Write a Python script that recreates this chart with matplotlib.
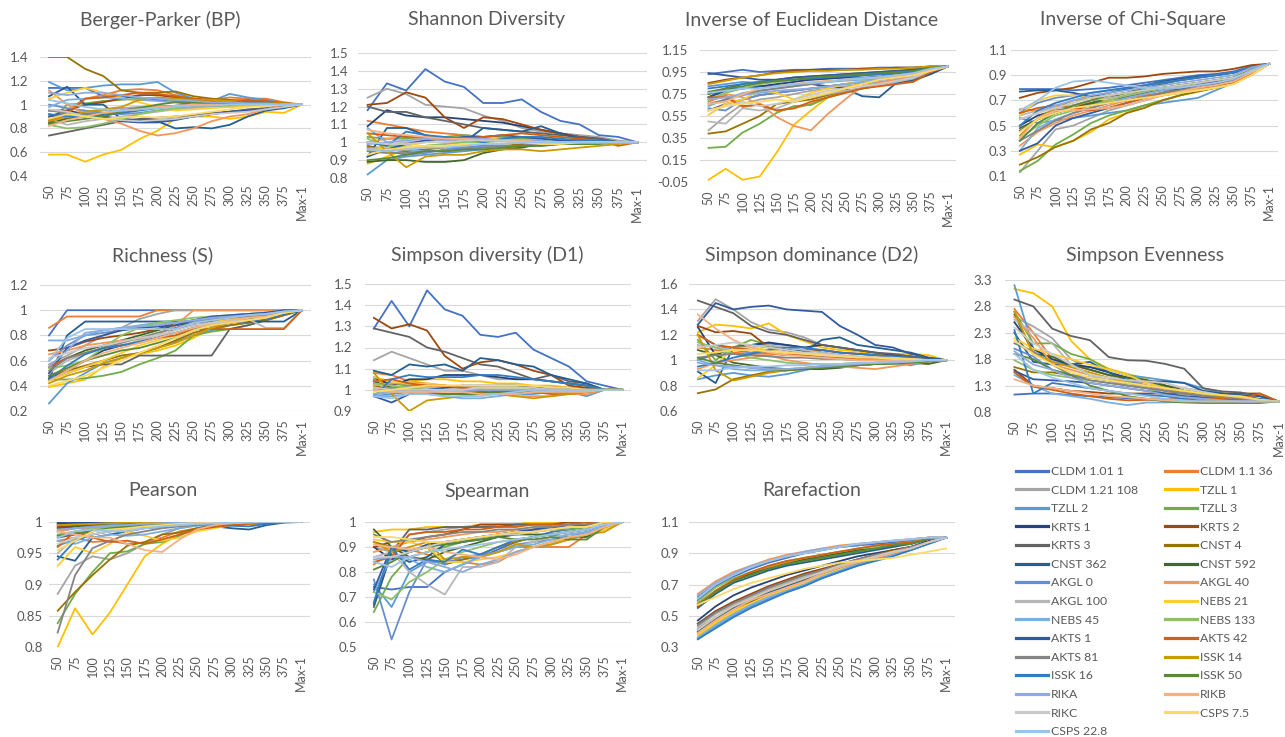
import numpy as np
import matplotlib
matplotlib.use("Agg")
import matplotlib.pyplot as plt
from matplotlib.lines import Line2D

plt.rcParams['font.family'] = ['Lato', 'DejaVu Sans']

# ---- data -------------------------------------------------------------
x_labels = ['50', '75', '100', '125', '150', '175', '200', '225', '250',
            '275', '300', '325', '350', '375', 'Max-1']

sample_names = ['CLDM 1.01 1', 'CLDM 1.1 36', 'CLDM 1.21 108', 'TZLL 1', 'TZLL 2',
                'TZLL 3', 'KRTS 1', 'KRTS 2', 'KRTS 3', 'CNST 4', 'CNST 362',
                'CNST 592', 'AKGL 0', 'AKGL 40', 'AKGL 100', 'NEBS 21', 'NEBS 45',
                'NEBS 133', 'AKTS 1', 'AKTS 42', 'AKTS 81', 'ISSK 14', 'ISSK 16',
                'ISSK 50', 'RIKA', 'RIKB', 'RIKC', 'CSPS 7.5', 'CSPS 22.8']

sample_colors = ['#4472C4', '#ED7D31', '#A5A5A5', '#FFC000', '#5B9BD5', '#70AD47',
                 '#264478', '#9E480E', '#636363', '#997300', '#255E91', '#43682B',
                 '#698ED0', '#F1975A', '#B7B7B7', '#FFCD33', '#7CAFDD', '#8CC168',
                 '#335AA1', '#D26012', '#848484', '#CC9A00', '#327DC2', '#5A8A39',
                 '#8FAADC', '#F4B183', '#C9C9C9', '#FFD966', '#9DC3E6']

berger_parker = [
    [1.14,1.14,1.14,1.07,1.07,1.06,1.04,1.02,1.0,1.01,1.02,1.01,1.0,1.0,1.0],
    [0.84,0.95,1.05,1.08,1.12,1.13,1.12,1.08,1.05,1.04,1.06,1.05,1.05,1.02,1.0],
    [0.92,0.88,0.93,0.95,0.97,0.98,0.99,0.98,1.0,1.0,0.99,1.0,1.0,1.0,1.0],
    [0.58,0.58,0.52,0.58,0.62,0.71,0.78,0.88,0.9,0.9,0.88,0.9,0.94,0.93,1.0],
    [1.19,1.12,1.14,1.16,1.17,1.17,1.19,1.1,1.05,1.03,1.09,1.06,1.04,1.01,1.0],
    [0.85,1.0,1.01,1.03,1.04,1.05,1.06,1.03,1.02,1.01,1.0,1.0,1.01,1.0,1.0],
    [0.95,0.95,0.92,0.9,0.88,0.87,0.87,0.88,0.9,0.92,0.94,0.95,0.96,0.98,1.0],
    [0.9,0.95,1.0,1.02,1.05,1.08,1.08,1.06,1.04,1.03,1.03,1.03,1.02,1.01,1.0],
    [0.74,0.77,0.8,0.83,0.86,0.88,0.89,0.9,0.91,0.93,0.94,0.96,0.97,0.99,1.0],
    [1.4,1.4,1.3,1.24,1.12,1.1,1.1,1.11,1.07,1.05,1.04,1.03,1.02,1.01,1.0],
    [1.07,1.15,1.0,1.0,0.88,0.86,0.86,0.8,0.81,0.8,0.83,0.9,0.95,0.97,1.0],
    [0.85,0.88,0.9,0.92,0.95,0.97,0.98,0.99,1.0,1.0,1.0,1.0,1.01,1.0,1.0],
    [1.0,0.97,0.95,0.93,0.92,0.93,0.95,0.97,0.98,0.99,1.0,1.0,1.0,1.0,1.0],
    [1.12,1.0,0.92,0.88,0.84,0.78,0.74,0.76,0.8,0.86,0.9,0.92,0.96,1.0,1.0],
    [0.88,0.83,0.86,0.88,0.9,0.92,0.94,0.96,0.97,0.98,0.98,0.99,0.99,1.0,1.0],
    [1.05,1.1,1.14,1.1,1.06,1.02,0.98,0.95,0.96,0.97,0.98,0.99,1.0,1.0,1.0],
    [0.98,1.04,1.05,1.06,1.05,1.04,1.03,1.02,1.02,1.01,1.01,1.01,1.0,1.0,1.0],
    [0.83,0.8,0.81,0.84,0.88,0.92,0.95,0.97,0.98,0.99,0.99,1.0,1.0,1.0,1.0],
    [0.9,0.92,0.92,0.9,0.86,0.85,0.85,0.87,0.9,0.92,0.94,0.95,0.96,0.98,1.0],
    [0.87,0.92,1.05,1.06,1.08,1.1,1.09,1.07,1.05,1.04,1.03,1.04,1.03,1.01,1.0],
    [0.95,0.93,0.92,0.93,0.95,0.97,0.98,0.98,0.99,0.99,1.0,1.0,1.0,1.0,1.0],
    [0.86,0.9,0.94,0.96,0.98,1.04,1.06,1.05,1.04,1.04,1.03,1.02,1.01,1.01,1.0],
    [0.92,0.9,0.9,0.91,0.93,0.95,0.97,0.99,1.0,1.01,1.02,1.02,1.01,1.0,1.0],
    [0.84,0.86,0.88,0.9,0.94,0.97,1.0,1.02,1.02,1.01,1.0,1.01,1.01,1.0,1.0],
    [1.1,1.08,1.1,1.1,1.08,1.06,1.05,1.04,1.03,1.02,1.02,1.01,1.01,1.0,1.0],
    [0.82,0.87,0.9,0.93,0.95,0.96,0.98,0.99,1.0,1.0,1.0,1.0,1.0,1.0,1.0],
    [0.96,0.94,0.9,0.88,0.87,0.86,0.87,0.88,0.9,0.92,0.93,0.94,0.96,0.98,1.0],
    [0.88,0.92,0.9,0.88,0.89,0.9,0.89,0.9,0.92,0.94,0.96,0.98,0.99,1.0,1.0],
    [1.04,1.01,0.98,0.96,0.95,0.96,0.97,0.98,0.99,0.99,1.0,1.0,1.0,1.0,1.0],
]

shannon = [
    [1.18,1.33,1.29,1.41,1.34,1.31,1.22,1.22,1.24,1.17,1.12,1.1,1.04,1.03,1.0],
    [1.12,1.1,1.08,1.06,1.05,1.04,1.03,1.03,1.02,1.02,1.01,1.01,1.0,1.0,1.0],
    [1.25,1.3,1.27,1.21,1.2,1.19,1.15,1.12,1.08,1.06,1.05,1.04,1.03,1.01,1.0],
    [0.88,0.92,0.96,0.98,0.99,1.0,1.01,1.01,1.0,1.0,1.0,1.0,1.0,1.0,1.0],
    [0.82,0.9,0.92,0.93,0.94,0.95,0.96,0.97,0.98,0.98,0.99,0.99,1.0,1.0,1.0],
    [1.03,1.02,1.02,1.03,1.03,1.04,1.03,1.03,1.02,1.02,1.01,1.01,1.0,1.0,1.0],
    [1.09,1.18,1.15,1.14,1.14,1.13,1.12,1.11,1.09,1.07,1.05,1.03,1.02,1.0,1.0],
    [1.21,1.22,1.28,1.25,1.14,1.08,1.14,1.13,1.1,1.07,1.05,1.03,1.02,1.0,1.0],
    [1.2,1.17,1.17,1.14,1.12,1.1,1.08,1.07,1.06,1.05,1.04,1.03,1.02,1.0,1.0],
    [0.98,0.96,0.95,0.96,0.97,0.97,0.98,0.98,0.99,0.99,0.99,1.0,1.0,1.0,1.0],
    [0.92,1.08,1.08,1.04,1.02,1.0,1.08,1.07,1.06,1.09,1.05,1.02,1.01,1.0,1.0],
    [0.89,0.9,0.9,0.89,0.89,0.9,0.94,0.96,0.97,0.99,0.99,0.99,1.0,1.0,1.0],
    [0.97,0.95,0.93,0.94,0.96,0.97,0.98,0.99,1.0,1.0,1.0,1.0,1.0,1.0,1.0],
    [1.0,1.02,1.03,1.02,1.01,1.0,1.01,1.02,1.01,1.0,1.0,1.0,1.0,1.0,1.0],
    [0.96,0.98,1.0,1.01,1.02,1.02,1.02,1.01,1.01,1.01,1.0,1.0,1.0,1.0,1.0],
    [0.95,0.97,0.98,1.0,1.02,1.03,1.03,1.02,1.01,1.01,1.0,1.0,1.0,1.0,1.0],
    [1.08,1.0,0.96,0.95,0.95,0.96,0.97,0.98,0.98,0.99,0.99,1.0,1.0,1.0,1.0],
    [1.02,0.98,0.97,0.98,0.99,1.0,1.0,1.01,1.01,1.0,1.0,1.0,1.0,1.0,1.0],
    [0.92,0.96,0.99,1.01,1.02,1.03,1.03,1.04,1.03,1.02,1.01,1.01,1.0,1.0,1.0],
    [1.05,1.04,1.03,1.03,1.02,1.02,1.03,1.04,1.05,1.04,1.03,1.02,1.01,0.98,1.0],
    [0.95,0.94,0.94,0.95,0.95,0.96,0.97,0.98,0.98,0.99,0.99,1.0,1.0,1.0,1.0],
    [1.05,0.95,0.86,0.92,0.93,0.93,0.95,0.96,0.96,0.95,0.96,0.97,0.98,0.99,1.0],
    [1.0,0.98,1.06,1.04,1.03,1.02,1.0,1.02,1.03,1.03,1.02,1.01,1.01,1.0,1.0],
    [0.9,0.91,0.93,0.95,0.95,0.96,0.96,0.97,0.98,0.98,0.99,0.99,0.99,1.0,1.0],
    [0.99,1.0,1.01,1.02,1.01,1.02,1.02,1.01,1.01,1.01,1.0,1.0,1.0,1.0,1.0],
    [1.07,1.05,1.04,1.03,1.02,1.02,1.01,1.01,1.01,1.0,1.0,1.0,1.0,1.0,1.0],
    [1.0,0.99,0.99,1.0,1.0,1.01,1.01,1.01,1.0,1.0,1.0,1.0,1.0,1.0,1.0],
    [0.93,0.96,0.97,0.98,0.98,0.99,0.99,0.99,1.0,0.99,0.99,1.0,1.0,1.0,1.0],
    [0.96,0.95,0.96,0.97,0.97,0.98,0.99,0.99,1.0,1.0,1.0,1.0,1.0,1.0,1.0],
]

inv_euclid = [
    [0.93,0.95,0.97,0.95,0.96,0.97,0.97,0.98,0.98,0.98,0.99,0.99,0.99,1.0,1.0],
    [0.68,0.74,0.63,0.66,0.6,0.62,0.66,0.72,0.77,0.8,0.83,0.86,0.89,0.96,1.0],
    [0.42,0.55,0.66,0.7,0.72,0.75,0.78,0.8,0.82,0.84,0.86,0.88,0.9,0.96,1.0],
    [-0.03,0.07,-0.03,0.0,0.22,0.47,0.6,0.72,0.8,0.85,0.88,0.9,0.93,0.97,1.0],
    [0.82,0.84,0.86,0.85,0.86,0.88,0.88,0.89,0.9,0.9,0.91,0.93,0.94,0.98,1.0],
    [0.26,0.27,0.4,0.48,0.58,0.64,0.65,0.72,0.76,0.8,0.84,0.87,0.9,0.96,1.0],
    [0.72,0.78,0.8,0.82,0.84,0.86,0.88,0.89,0.9,0.92,0.93,0.94,0.96,0.98,1.0],
    [0.85,0.88,0.9,0.92,0.95,0.96,0.97,0.97,0.97,0.98,0.98,0.99,0.99,1.0,1.0],
    [0.6,0.66,0.7,0.74,0.76,0.78,0.8,0.82,0.84,0.86,0.88,0.9,0.92,0.97,1.0],
    [0.39,0.41,0.48,0.55,0.66,0.68,0.7,0.74,0.78,0.8,0.83,0.86,0.87,0.93,1.0],
    [0.72,0.8,0.8,0.82,0.82,0.84,0.84,0.82,0.8,0.73,0.72,0.85,0.88,0.93,1.0],
    [0.75,0.8,0.84,0.86,0.88,0.9,0.91,0.92,0.93,0.94,0.95,0.96,0.97,0.99,1.0],
    [0.62,0.6,0.7,0.74,0.76,0.78,0.8,0.82,0.84,0.86,0.88,0.9,0.92,0.97,1.0],
    [0.7,0.75,0.72,0.66,0.54,0.46,0.42,0.57,0.7,0.82,0.85,0.88,0.9,0.96,1.0],
    [0.5,0.48,0.62,0.6,0.62,0.68,0.72,0.75,0.78,0.8,0.83,0.86,0.89,0.96,1.0],
    [0.56,0.66,0.7,0.78,0.76,0.7,0.76,0.8,0.84,0.87,0.9,0.92,0.94,0.98,1.0],
    [0.64,0.7,0.76,0.78,0.8,0.82,0.84,0.86,0.87,0.88,0.88,0.9,0.92,0.97,1.0],
    [0.7,0.76,0.8,0.84,0.86,0.88,0.9,0.91,0.92,0.93,0.94,0.95,0.96,0.99,1.0],
    [0.94,0.92,0.9,0.88,0.88,0.9,0.91,0.92,0.93,0.94,0.95,0.96,0.97,0.99,1.0],
    [0.72,0.72,0.64,0.65,0.6,0.62,0.68,0.72,0.76,0.8,0.82,0.84,0.86,0.95,1.0],
    [0.66,0.7,0.74,0.78,0.8,0.82,0.84,0.86,0.88,0.89,0.9,0.91,0.93,0.97,1.0],
    [0.84,0.87,0.9,0.92,0.94,0.95,0.96,0.96,0.97,0.97,0.98,0.98,0.99,1.0,1.0],
    [0.8,0.82,0.84,0.86,0.87,0.88,0.89,0.9,0.91,0.92,0.93,0.94,0.95,0.98,1.0],
    [0.77,0.8,0.82,0.85,0.87,0.88,0.9,0.91,0.92,0.93,0.94,0.95,0.96,0.99,1.0],
    [0.7,0.72,0.74,0.76,0.78,0.79,0.8,0.82,0.84,0.86,0.88,0.9,0.92,0.97,1.0],
    [0.66,0.68,0.75,0.8,0.82,0.84,0.86,0.87,0.88,0.89,0.9,0.91,0.93,0.97,1.0],
    [0.6,0.64,0.68,0.64,0.66,0.7,0.74,0.78,0.8,0.82,0.84,0.87,0.9,0.96,1.0],
    [0.6,0.64,0.66,0.68,0.7,0.68,0.72,0.76,0.8,0.84,0.88,0.9,0.92,0.96,1.0],
    [0.76,0.78,0.8,0.8,0.82,0.84,0.85,0.86,0.88,0.89,0.9,0.92,0.94,0.98,1.0],
]

inv_chi = [
    [0.79,0.79,0.79,0.78,0.79,0.8,0.82,0.84,0.86,0.88,0.9,0.91,0.93,0.97,0.99],
    [0.63,0.62,0.64,0.66,0.68,0.7,0.72,0.74,0.76,0.78,0.8,0.82,0.85,0.92,0.99],
    [0.13,0.3,0.47,0.5,0.56,0.62,0.66,0.7,0.74,0.77,0.8,0.83,0.86,0.93,0.99],
    [0.27,0.35,0.33,0.38,0.45,0.55,0.6,0.66,0.7,0.74,0.77,0.8,0.84,0.92,0.99],
    [0.56,0.52,0.54,0.56,0.58,0.6,0.62,0.66,0.68,0.7,0.72,0.78,0.84,0.9,0.99],
    [0.14,0.22,0.35,0.43,0.52,0.58,0.62,0.66,0.7,0.74,0.78,0.82,0.85,0.93,0.99],
    [0.5,0.58,0.62,0.64,0.66,0.68,0.7,0.72,0.74,0.76,0.78,0.8,0.84,0.92,0.99],
    [0.72,0.76,0.78,0.8,0.84,0.88,0.88,0.89,0.91,0.92,0.93,0.93,0.95,0.98,0.99],
    [0.46,0.55,0.6,0.64,0.67,0.7,0.73,0.76,0.78,0.8,0.82,0.85,0.88,0.94,0.99],
    [0.19,0.25,0.33,0.38,0.47,0.52,0.6,0.64,0.7,0.74,0.77,0.8,0.84,0.92,0.99],
    [0.77,0.78,0.78,0.76,0.73,0.76,0.79,0.82,0.85,0.87,0.89,0.9,0.92,0.96,0.99],
    [0.48,0.55,0.6,0.64,0.68,0.72,0.76,0.8,0.83,0.86,0.88,0.9,0.92,0.96,0.99],
    [0.6,0.68,0.72,0.74,0.76,0.78,0.8,0.82,0.84,0.86,0.88,0.9,0.92,0.96,0.99],
    [0.34,0.45,0.52,0.58,0.62,0.66,0.7,0.72,0.74,0.76,0.78,0.8,0.83,0.91,0.99],
    [0.58,0.62,0.64,0.66,0.7,0.72,0.74,0.77,0.8,0.82,0.84,0.86,0.88,0.94,0.99],
    [0.58,0.7,0.74,0.74,0.72,0.7,0.7,0.72,0.74,0.76,0.78,0.8,0.83,0.9,0.99],
    [0.3,0.48,0.55,0.6,0.64,0.68,0.72,0.75,0.78,0.8,0.82,0.84,0.87,0.93,0.99],
    [0.4,0.5,0.58,0.62,0.66,0.7,0.74,0.77,0.8,0.82,0.84,0.86,0.88,0.94,0.99],
    [0.3,0.36,0.5,0.56,0.6,0.64,0.68,0.72,0.76,0.79,0.82,0.85,0.88,0.94,0.99],
    [0.6,0.64,0.66,0.64,0.62,0.64,0.68,0.72,0.76,0.78,0.8,0.82,0.84,0.91,0.99],
    [0.38,0.46,0.54,0.6,0.64,0.68,0.7,0.73,0.76,0.78,0.8,0.83,0.86,0.93,0.99],
    [0.42,0.56,0.64,0.7,0.72,0.74,0.76,0.78,0.8,0.82,0.84,0.86,0.88,0.94,0.99],
    [0.5,0.62,0.68,0.72,0.76,0.78,0.8,0.82,0.84,0.86,0.88,0.9,0.92,0.96,0.99],
    [0.38,0.52,0.6,0.66,0.7,0.74,0.76,0.78,0.8,0.82,0.84,0.86,0.88,0.94,0.99],
    [0.55,0.6,0.66,0.7,0.74,0.76,0.78,0.8,0.82,0.84,0.86,0.88,0.9,0.96,0.99],
    [0.4,0.56,0.62,0.62,0.63,0.64,0.66,0.7,0.74,0.77,0.8,0.82,0.85,0.92,0.99],
    [0.55,0.6,0.64,0.68,0.72,0.74,0.76,0.78,0.8,0.82,0.84,0.86,0.88,0.93,0.99],
    [0.45,0.55,0.6,0.64,0.66,0.68,0.7,0.72,0.74,0.76,0.78,0.8,0.83,0.9,0.99],
    [0.62,0.7,0.8,0.85,0.86,0.84,0.82,0.8,0.8,0.8,0.82,0.84,0.87,0.94,0.99],
]

richness = [
    [0.8,1.0,1.0,1.0,1.0,1.0,1.0,1.0,1.0,1.0,1.0,1.0,1.0,1.0,1.0],
    [0.86,0.95,0.95,0.95,0.95,0.95,1.0,1.0,1.0,1.0,1.0,1.0,1.0,1.0,1.0],
    [0.57,0.64,0.72,0.8,0.86,0.93,0.97,1.0,1.0,1.0,1.0,1.0,1.0,1.0,1.0],
    [0.39,0.42,0.45,0.55,0.62,0.65,0.68,0.72,0.78,0.86,0.9,0.93,0.94,0.97,1.0],
    [0.26,0.42,0.5,0.58,0.62,0.66,0.7,0.75,0.8,0.84,0.88,0.9,0.93,0.98,1.0],
    [0.45,0.45,0.46,0.48,0.51,0.57,0.62,0.68,0.8,0.83,0.85,0.88,0.92,0.98,1.0],
    [0.46,0.52,0.6,0.68,0.72,0.75,0.78,0.85,0.88,0.9,0.92,0.93,0.94,0.97,1.0],
    [0.68,0.7,0.75,0.78,0.8,0.82,0.85,0.9,0.92,0.94,0.95,0.96,0.97,0.99,1.0],
    [0.45,0.5,0.55,0.57,0.57,0.64,0.64,0.64,0.64,0.64,0.85,0.88,0.92,0.96,1.0],
    [0.48,0.52,0.56,0.6,0.64,0.66,0.7,0.76,0.82,0.86,0.88,0.9,0.92,0.96,1.0],
    [0.45,0.8,0.91,0.91,0.91,0.91,0.91,0.91,0.91,0.91,0.91,0.91,0.91,0.91,1.0],
    [0.55,0.62,0.68,0.72,0.76,0.8,0.84,0.88,0.9,0.92,0.94,0.95,0.96,0.98,1.0],
    [0.6,0.72,0.8,0.82,0.84,0.86,0.88,0.9,0.91,0.93,0.95,0.96,0.97,0.99,1.0],
    [0.65,0.68,0.72,0.74,0.76,0.77,0.8,0.88,1.0,1.0,1.0,1.0,1.0,1.0,1.0],
    [0.5,0.6,0.65,0.7,0.72,0.76,0.8,0.82,0.86,0.9,0.92,0.93,0.86,0.86,1.0],
    [0.44,0.5,0.55,0.6,0.66,0.72,0.76,0.8,0.86,0.9,0.93,0.94,0.95,0.98,1.0],
    [0.76,0.76,0.8,0.84,0.86,0.88,0.9,0.9,0.92,0.94,0.96,0.97,0.98,1.0,1.0],
    [0.54,0.56,0.6,0.7,0.8,0.86,0.9,0.92,0.94,0.95,0.96,0.97,0.98,0.99,1.0],
    [0.5,0.7,0.76,0.8,0.84,0.86,0.87,0.88,0.92,0.95,0.96,0.97,0.98,1.0,1.0],
    [0.55,0.62,0.66,0.7,0.72,0.74,0.78,0.8,0.85,0.85,0.85,0.85,0.85,0.85,1.0],
    [0.52,0.62,0.66,0.7,0.74,0.78,0.82,0.86,0.9,0.92,0.94,0.95,0.96,0.98,1.0],
    [0.42,0.48,0.52,0.58,0.62,0.66,0.7,0.74,0.8,0.86,0.9,0.92,0.94,0.98,1.0],
    [0.45,0.56,0.65,0.7,0.72,0.75,0.78,0.82,0.86,0.88,0.9,0.92,0.93,0.97,1.0],
    [0.48,0.54,0.6,0.64,0.68,0.7,0.74,0.78,0.84,0.88,0.9,0.92,0.94,0.98,1.0],
    [0.55,0.68,0.82,0.84,0.86,0.87,0.88,0.9,0.92,0.94,0.95,0.96,0.97,0.99,1.0],
    [0.44,0.52,0.6,0.66,0.7,0.74,0.78,0.82,0.86,0.89,0.92,0.94,0.95,0.98,1.0],
    [0.62,0.66,0.7,0.72,0.75,0.78,0.8,0.84,0.88,0.9,0.91,0.92,0.94,0.98,1.0],
    [0.4,0.44,0.48,0.54,0.6,0.66,0.72,0.78,0.84,0.88,0.9,0.92,0.94,0.98,1.0],
    [0.6,0.78,0.85,0.85,0.85,0.85,0.85,0.85,0.9,0.92,0.94,0.96,0.97,0.99,1.0],
]

simpson_d1 = [
    [1.29,1.42,1.3,1.47,1.38,1.35,1.26,1.25,1.27,1.19,1.15,1.11,1.04,1.02,1.0],
    [1.08,1.07,1.04,1.03,1.02,1.01,1.0,1.0,0.99,0.99,0.99,1.0,1.0,1.0,1.0],
    [1.14,1.18,1.15,1.12,1.09,1.09,1.07,1.05,1.05,1.05,1.04,1.03,1.02,1.0,1.0],
    [1.03,1.02,1.04,1.05,1.05,1.04,1.04,1.03,1.03,1.02,1.02,1.01,1.01,1.0,1.0],
    [0.97,0.98,0.99,1.0,1.0,0.99,0.99,0.98,0.98,0.98,0.99,0.99,0.97,1.0,1.0],
    [1.05,1.03,1.02,1.02,1.01,1.0,1.0,1.0,0.99,0.99,0.99,0.99,1.0,1.0,1.0],
    [1.06,1.02,1.05,1.05,1.07,1.07,1.07,1.06,1.05,1.05,1.04,1.03,1.02,1.0,1.0],
    [1.34,1.29,1.31,1.28,1.16,1.1,1.13,1.14,1.12,1.09,1.07,1.02,1.01,1.0,1.0],
    [1.29,1.27,1.25,1.2,1.18,1.15,1.12,1.11,1.08,1.05,1.07,1.04,1.03,1.0,1.0],
    [1.02,1.0,0.99,0.98,0.98,0.98,0.99,0.99,0.99,0.99,0.99,1.0,1.0,1.0,1.0],
    [1.09,1.07,1.12,1.11,1.12,1.09,1.15,1.14,1.12,1.11,1.07,1.05,1.03,1.0,1.0],
    [1.04,1.01,1.0,0.99,0.98,0.98,0.98,0.99,0.99,0.99,0.99,0.99,0.99,1.0,1.0],
    [1.0,1.01,1.02,1.02,1.01,1.01,1.0,1.0,1.0,1.0,1.0,1.0,1.0,1.0,1.0],
    [1.02,1.03,1.03,1.02,1.02,1.01,1.01,0.98,0.97,0.97,0.97,0.98,0.98,1.0,1.0],
    [1.0,1.0,1.01,1.01,1.01,1.0,1.0,1.0,1.0,1.0,1.0,1.0,1.0,1.0,1.0],
    [1.06,1.04,1.03,1.03,1.02,1.02,1.01,1.01,1.01,1.01,1.0,1.0,1.0,1.0,1.0],
    [0.97,0.97,0.98,0.98,0.97,0.96,0.96,0.97,0.98,0.99,0.99,0.99,1.0,1.0,1.0],
    [1.03,1.02,1.01,1.0,1.0,1.0,1.0,1.0,1.0,1.0,1.0,1.0,1.0,1.0,1.0],
    [0.97,0.94,0.98,1.0,1.01,1.02,1.02,1.02,1.02,1.01,1.01,1.01,1.0,1.0,1.0],
    [1.04,1.05,1.03,1.02,1.02,1.01,1.0,0.99,0.99,0.99,0.98,0.98,0.99,1.0,1.0],
    [0.98,0.99,1.0,1.0,1.0,1.0,1.0,1.0,1.0,1.0,1.0,1.0,1.0,1.0,1.0],
    [1.08,0.98,0.9,0.95,0.96,0.97,0.98,0.98,0.97,0.96,0.97,0.98,0.99,1.0,1.0],
    [0.97,1.05,1.07,1.06,1.06,1.06,1.07,1.07,1.06,1.05,1.04,1.03,1.02,1.0,1.0],
    [1.01,0.99,0.99,0.98,0.98,0.98,0.98,0.99,0.99,0.99,0.99,0.99,1.0,1.0,1.0],
    [0.98,0.99,0.99,0.99,1.0,1.0,1.0,1.0,1.0,1.0,1.0,1.0,1.0,1.0,1.0],
    [1.0,0.99,0.99,0.99,0.99,0.99,0.98,0.98,0.98,0.99,0.99,0.99,0.99,1.0,1.0],
    [1.01,1.0,1.0,1.0,1.0,1.0,1.01,1.01,1.01,1.01,1.0,1.0,1.0,1.0,1.0],
    [0.99,1.0,1.01,1.02,1.02,1.02,1.02,1.02,1.02,1.02,1.01,1.01,1.0,1.0,1.0],
    [0.97,0.96,0.98,0.98,0.97,0.97,0.97,0.98,0.99,1.0,1.0,1.0,1.0,1.0,1.0],
]

simpson_d2 = [
    [1.0,1.05,1.1,1.12,1.13,1.12,1.1,1.06,1.04,1.02,1.02,1.01,1.01,1.0,1.0],
    [1.1,1.08,1.06,1.05,1.05,1.04,1.06,1.08,1.06,1.05,1.04,1.03,1.02,1.0,1.0],
    [1.31,1.48,1.4,1.3,1.24,1.22,1.18,1.12,1.1,1.07,1.05,1.04,1.03,1.01,1.0],
    [1.22,1.28,1.27,1.25,1.29,1.2,1.15,1.1,1.08,1.07,1.05,1.05,1.05,1.04,1.0],
    [0.85,0.88,0.9,0.88,0.87,0.89,0.92,0.95,0.96,0.97,0.97,0.98,0.96,0.99,1.0],
    [1.16,1.0,1.1,1.16,1.12,1.08,1.05,1.03,1.02,1.01,1.01,1.0,1.0,1.0,1.0],
    [1.26,1.04,1.1,1.12,1.14,1.12,1.1,1.12,1.1,1.08,1.06,1.04,1.03,1.01,1.0],
    [1.27,1.22,1.23,1.21,1.1,1.08,1.06,1.08,1.06,1.05,1.04,1.03,1.02,1.0,1.0],
    [1.47,1.42,1.37,1.27,1.22,1.2,1.16,1.12,1.1,1.08,1.06,1.05,1.03,1.01,1.0],
    [0.74,0.77,0.85,0.88,0.91,0.92,0.93,0.94,0.95,0.96,0.97,0.98,0.98,0.99,1.0],
    [0.91,0.82,1.1,1.12,1.1,1.08,1.07,1.16,1.18,1.12,1.1,1.08,1.06,1.02,1.0],
    [1.08,1.04,0.98,0.96,0.94,0.93,0.93,0.93,0.94,0.96,0.97,0.98,0.98,0.97,1.0],
    [1.2,1.12,1.08,1.06,1.08,1.06,1.04,1.03,1.02,1.01,1.0,1.0,1.0,1.0,1.0],
    [0.93,0.98,1.0,1.02,1.04,1.0,0.98,0.96,0.95,0.94,0.93,0.95,0.97,0.99,1.0],
    [1.12,1.1,1.08,1.1,1.12,1.1,1.08,1.06,1.04,1.03,1.02,1.02,1.01,1.0,1.0],
    [0.86,0.96,1.1,1.1,1.08,1.06,1.05,1.04,1.03,1.02,1.02,1.01,1.01,1.0,1.0],
    [1.0,0.96,0.93,0.92,0.92,0.93,0.94,0.95,0.96,0.97,0.98,0.98,0.99,1.0,1.0],
    [1.14,1.1,1.05,1.02,1.0,0.98,0.97,0.97,0.97,0.98,0.98,0.99,0.99,1.0,1.0],
    [1.28,1.45,1.4,1.42,1.43,1.4,1.39,1.38,1.27,1.2,1.12,1.1,1.05,1.02,1.0],
    [1.2,1.12,1.1,1.08,1.06,1.04,1.04,1.02,1.02,1.01,1.01,1.0,1.0,1.0,1.0],
    [1.02,1.04,1.05,1.04,1.03,1.02,1.02,1.01,1.01,1.0,1.0,1.0,1.0,1.0,1.0],
    [1.2,0.92,0.84,0.87,0.9,0.92,0.94,0.95,0.96,0.96,0.97,0.98,0.99,1.0,1.0],
    [0.95,0.98,1.02,1.05,1.08,1.1,1.1,1.08,1.06,1.05,1.04,1.03,1.02,1.0,1.0],
    [1.02,0.98,0.96,0.94,0.93,0.92,0.93,0.94,0.95,0.96,0.97,0.97,0.98,0.99,1.0],
    [0.98,0.96,0.95,0.94,0.93,0.93,0.94,0.95,0.96,0.97,0.98,0.98,0.99,1.0,1.0],
    [1.36,1.25,1.16,1.1,1.06,1.04,1.03,1.02,1.01,1.0,1.0,1.0,1.0,1.0,1.0],
    [1.1,1.12,1.14,1.12,1.1,1.08,1.06,1.05,1.04,1.03,1.02,1.02,1.01,1.0,1.0],
    [1.05,1.06,1.08,1.08,1.07,1.06,1.05,1.04,1.03,1.02,1.02,1.01,1.01,1.0,1.0],
    [0.92,0.92,0.94,0.95,0.95,0.96,0.96,0.97,0.97,0.98,0.98,0.99,0.99,1.0,1.0],
]

simpson_evenness = [
    [1.13,1.15,1.15,1.12,1.1,1.08,1.06,1.04,1.02,1.0,1.0,1.0,1.0,1.0,1.0],
    [2.75,2.3,1.8,1.7,1.6,1.5,1.4,1.3,1.2,1.15,1.1,1.08,1.05,1.02,1.0],
    [2.6,2.42,2.2,1.8,1.6,1.5,1.4,1.35,1.3,1.25,1.2,1.15,1.12,1.05,1.0],
    [3.13,3.05,2.8,2.15,1.8,1.62,1.52,1.42,1.3,1.2,1.15,1.1,1.07,1.03,1.0],
    [3.2,2.0,1.75,1.7,1.65,1.6,1.5,1.45,1.4,1.35,1.25,1.15,1.1,1.05,1.0],
    [2.7,2.1,2.1,1.9,1.8,1.6,1.5,1.4,1.25,1.15,1.1,1.05,1.02,1.0,1.0],
    [2.5,2.0,1.8,1.7,1.65,1.55,1.45,1.4,1.3,1.2,1.15,1.12,1.1,1.04,1.0],
    [1.6,1.3,1.25,1.2,1.18,1.15,1.15,1.15,1.15,1.15,1.15,1.15,1.15,1.15,1.0],
    [2.93,2.8,2.38,2.24,2.16,1.84,1.78,1.77,1.71,1.62,1.25,1.19,1.17,1.1,1.0],
    [1.65,1.55,1.55,1.5,1.45,1.4,1.35,1.3,1.25,1.2,1.15,1.1,1.08,1.02,1.0],
    [2.3,1.75,1.7,1.7,1.75,1.55,1.4,1.38,1.38,1.35,1.2,1.15,1.12,1.1,1.0],
    [2.65,1.9,1.85,1.7,1.6,1.5,1.45,1.4,1.3,1.2,1.12,1.08,1.05,1.0,1.0],
    [2.0,1.85,1.6,1.5,1.45,1.4,1.38,1.3,1.2,1.15,1.12,1.1,1.05,1.0,1.0],
    [2.6,2.2,1.7,1.6,1.5,1.4,1.3,1.25,1.2,1.15,1.1,1.05,1.0,1.0,1.0],
    [2.55,2.3,2.1,1.7,1.5,1.4,1.3,1.3,1.25,1.2,1.15,1.1,1.08,1.02,1.0],
    [2.2,2.0,1.9,1.8,1.7,1.6,1.5,1.35,1.25,1.2,1.15,1.1,1.08,1.03,1.0],
    [1.5,1.3,1.15,1.1,1.05,0.98,0.93,0.98,0.98,1.0,1.0,1.0,1.0,1.0,1.0],
    [1.78,1.6,1.5,1.45,1.4,1.35,1.3,1.25,1.15,1.1,1.05,1.0,1.0,1.0,1.0],
    [1.58,1.42,1.4,1.38,1.35,1.3,1.25,1.2,1.15,1.1,1.08,1.05,1.03,1.0,1.0],
    [1.55,1.28,1.22,1.15,1.1,1.05,1.02,1.03,1.05,1.05,1.05,1.05,1.05,1.15,1.0],
    [2.1,1.95,1.7,1.5,1.4,1.35,1.3,1.25,1.2,1.15,1.1,1.08,1.05,1.02,1.0],
    [2.7,1.9,1.75,1.65,1.55,1.45,1.35,1.3,1.25,1.2,1.15,1.1,1.07,1.02,1.0],
    [2.35,1.15,1.35,1.3,1.25,1.2,1.15,1.12,1.1,1.05,1.0,1.0,1.0,1.0,1.0],
    [1.9,1.8,1.6,1.5,1.3,1.2,1.1,1.05,1.0,0.98,0.97,0.97,0.97,0.97,1.0],
    [1.95,1.7,1.6,1.45,1.35,1.3,1.25,1.2,1.12,1.08,1.05,1.02,1.0,1.0,1.0],
    [1.42,1.3,1.25,1.2,1.15,1.1,1.08,1.05,1.02,1.0,1.0,1.0,1.0,1.0,1.0],
    [2.4,2.1,1.9,1.7,1.5,1.45,1.4,1.38,1.35,1.25,1.18,1.12,1.08,1.03,1.0],
    [2.15,1.9,1.7,1.55,1.45,1.4,1.35,1.3,1.25,1.2,1.15,1.12,1.1,1.03,1.0],
    [1.9,1.6,1.45,1.35,1.25,1.2,1.15,1.1,1.05,1.02,1.0,1.0,1.0,1.0,1.0],
]

pearson = [
    [1.0,1.0,1.0,0.998,0.998,0.998,0.999,0.999,1.0,1.0,1.0,1.0,1.0,1.0,1.0],
    [0.97,0.975,0.968,0.97,0.965,0.967,0.975,0.985,0.99,0.993,0.995,0.997,0.998,1.0,1.0],
    [0.885,0.93,0.945,0.94,0.95,0.965,0.98,0.99,0.995,0.997,0.998,0.999,1.0,1.0,1.0],
    [0.8,0.862,0.82,0.855,0.9,0.945,0.965,0.98,0.99,0.995,0.997,0.998,0.999,1.0,1.0],
    [0.962,0.972,0.985,0.99,0.992,0.994,0.995,0.996,0.997,0.998,0.998,0.999,0.999,1.0,1.0],
    [0.838,0.885,0.92,0.95,0.953,0.965,0.968,0.978,0.99,0.995,0.997,0.998,0.999,1.0,1.0],
    [0.998,0.998,0.999,0.999,0.999,1.0,1.0,1.0,1.0,1.0,1.0,1.0,1.0,1.0,1.0],
    [0.992,0.994,0.995,0.997,0.998,0.999,0.999,1.0,1.0,1.0,1.0,1.0,1.0,1.0,1.0],
    [0.975,0.98,0.985,0.99,0.99,0.993,0.995,0.996,0.997,0.998,0.999,1.0,1.0,1.0,1.0],
    [0.858,0.888,0.915,0.94,0.962,0.968,0.98,0.983,0.99,0.993,0.995,0.997,0.998,1.0,1.0],
    [0.945,0.938,0.975,0.98,0.985,0.99,0.992,0.994,0.995,0.993,0.99,0.988,0.995,0.999,1.0],
    [0.99,0.992,0.994,0.996,0.997,0.998,0.999,0.999,1.0,1.0,1.0,1.0,1.0,1.0,1.0],
    [0.985,0.99,0.993,0.995,0.996,0.997,0.998,0.999,1.0,1.0,1.0,1.0,1.0,1.0,1.0],
    [0.985,0.99,0.99,0.992,0.994,0.996,0.997,0.998,0.999,0.999,1.0,1.0,1.0,1.0,1.0],
    [0.95,0.975,0.98,0.985,0.99,0.993,0.995,0.996,0.997,0.998,0.999,1.0,1.0,1.0,1.0],
    [0.93,0.96,0.95,0.965,0.985,0.978,0.97,0.975,0.985,0.99,0.995,0.997,0.998,1.0,1.0],
    [0.97,0.965,0.975,0.98,0.978,0.98,0.985,0.99,0.994,0.996,0.998,0.999,1.0,1.0,1.0],
    [0.98,0.985,0.99,0.992,0.994,0.996,0.997,0.998,0.999,1.0,1.0,1.0,1.0,1.0,1.0],
    [0.995,0.997,0.998,0.999,0.999,1.0,1.0,1.0,1.0,1.0,1.0,1.0,1.0,1.0,1.0],
    [0.96,0.985,0.975,0.968,0.97,0.965,0.972,0.98,0.988,0.992,0.995,0.997,0.998,1.0,1.0],
    [0.823,0.915,0.958,0.97,0.98,0.985,0.99,0.993,0.995,0.997,0.998,0.999,1.0,1.0,1.0],
    [0.995,0.996,0.997,0.998,0.999,0.999,1.0,1.0,1.0,1.0,1.0,1.0,1.0,1.0,1.0],
    [0.94,0.97,0.98,0.985,0.99,0.993,0.995,0.996,0.997,0.996,0.994,0.993,0.997,1.0,1.0],
    [0.978,0.982,0.986,0.99,0.993,0.995,0.997,0.998,0.999,1.0,1.0,1.0,1.0,1.0,1.0],
    [0.988,0.99,0.992,0.994,0.995,0.997,0.998,0.999,1.0,1.0,1.0,1.0,1.0,1.0,1.0],
    [0.985,0.98,0.975,0.975,0.965,0.955,0.952,0.972,0.988,0.995,0.998,0.999,1.0,1.0,1.0],
    [0.965,0.975,0.98,0.985,0.988,0.99,0.993,0.995,0.997,0.998,0.999,1.0,1.0,1.0,1.0],
    [0.955,0.97,0.985,0.988,0.99,0.993,0.995,0.997,0.998,0.999,1.0,1.0,1.0,1.0,1.0],
    [0.975,0.985,0.988,0.985,0.985,0.99,0.993,0.995,0.997,0.998,0.999,1.0,1.0,1.0,1.0],
]

spearman = [
    [0.74,0.73,0.74,0.74,0.8,0.83,0.86,0.89,0.92,0.94,0.96,0.97,0.98,0.99,1.0],
    [0.83,0.88,0.89,0.87,0.85,0.84,0.83,0.84,0.88,0.9,0.9,0.9,0.95,0.97,1.0],
    [0.9,0.88,0.95,0.96,0.97,0.98,0.98,0.99,0.99,1.0,1.0,1.0,1.0,1.0,1.0],
    [0.96,0.97,0.97,0.98,0.98,0.98,0.99,0.99,0.99,1.0,1.0,1.0,1.0,1.0,1.0],
    [0.75,0.66,0.8,0.84,0.84,0.85,0.86,0.88,0.9,0.9,0.91,0.93,0.95,0.98,1.0],
    [0.64,0.78,0.86,0.88,0.9,0.92,0.94,0.95,0.96,0.96,0.97,0.97,0.98,0.99,1.0],
    [0.9,0.85,0.88,0.9,0.92,0.93,0.94,0.95,0.96,0.97,0.98,0.98,0.99,1.0,1.0],
    [0.9,0.92,0.92,0.94,0.95,0.97,0.99,0.99,0.99,0.99,0.99,1.0,1.0,1.0,1.0],
    [0.66,0.88,0.97,0.97,0.98,0.98,0.98,0.98,0.99,0.99,0.99,0.99,1.0,1.0,1.0],
    [0.92,0.9,0.88,0.9,0.83,0.85,0.87,0.9,0.92,0.94,0.95,0.96,0.97,0.99,1.0],
    [0.67,0.88,0.84,0.86,0.91,0.92,0.93,0.94,0.95,0.96,0.97,0.98,0.98,0.99,1.0],
    [0.97,0.9,0.86,0.85,0.88,0.9,0.92,0.94,0.95,0.95,0.95,0.94,0.94,0.98,1.0],
    [0.77,0.53,0.72,0.85,0.83,0.86,0.87,0.88,0.91,0.92,0.93,0.94,0.96,0.98,1.0],
    [0.88,0.9,0.92,0.93,0.94,0.95,0.96,0.96,0.97,0.97,0.98,0.98,0.99,1.0,1.0],
    [0.86,0.88,0.8,0.75,0.71,0.82,0.82,0.84,0.9,0.92,0.94,0.95,0.96,0.98,1.0],
    [0.93,0.92,0.92,0.9,0.84,0.84,0.85,0.86,0.88,0.9,0.92,0.93,0.95,0.97,1.0],
    [0.72,0.86,0.85,0.82,0.8,0.83,0.86,0.88,0.9,0.91,0.93,0.95,0.96,0.98,1.0],
    [0.72,0.69,0.76,0.8,0.85,0.88,0.9,0.92,0.93,0.94,0.95,0.96,0.97,0.99,1.0],
    [0.73,0.9,0.88,0.91,0.92,0.93,0.94,0.95,0.96,0.97,0.98,0.98,0.99,1.0,1.0],
    [0.84,0.86,0.95,0.96,0.96,0.97,0.97,0.98,0.98,0.99,0.99,0.99,1.0,1.0,1.0],
    [0.95,0.92,0.93,0.94,0.95,0.96,0.96,0.97,0.97,0.98,0.98,0.99,0.99,1.0,1.0],
    [0.92,0.88,0.9,0.92,0.85,0.86,0.86,0.88,0.91,0.9,0.91,0.93,0.95,0.96,1.0],
    [0.68,0.9,0.81,0.85,0.84,0.89,0.87,0.9,0.93,0.94,0.95,0.96,0.97,0.99,1.0],
    [0.81,0.84,0.88,0.9,0.91,0.92,0.93,0.94,0.93,0.93,0.94,0.93,0.93,0.98,1.0],
    [0.85,0.86,0.86,0.84,0.82,0.8,0.83,0.85,0.88,0.9,0.92,0.94,0.95,0.98,1.0],
    [0.91,0.9,0.89,0.9,0.88,0.87,0.86,0.85,0.87,0.9,0.92,0.94,0.95,0.98,1.0],
    [0.86,0.86,0.88,0.9,0.92,0.93,0.94,0.95,0.95,0.96,0.97,0.98,0.98,0.99,1.0],
    [0.94,0.94,0.93,0.92,0.92,0.93,0.94,0.95,0.96,0.96,0.97,0.98,0.98,1.0,1.0],
    [0.84,0.82,0.86,0.88,0.89,0.9,0.91,0.92,0.93,0.94,0.95,0.96,0.97,0.99,1.0],
]

rarefaction = [
    [0.6,0.69,0.75,0.8,0.84,0.87,0.9,0.92,0.94,0.95,0.96,0.97,0.98,1.0,1.0],
    [0.58,0.66,0.72,0.77,0.81,0.84,0.87,0.89,0.91,0.92,0.94,0.95,0.96,0.99,1.0],
    [0.42,0.49,0.55,0.61,0.66,0.7,0.74,0.78,0.81,0.85,0.88,0.91,0.94,0.97,1.0],
    [0.37,0.45,0.52,0.58,0.63,0.67,0.71,0.76,0.8,0.84,0.87,0.9,0.93,0.97,1.0],
    [0.35,0.43,0.5,0.56,0.61,0.65,0.69,0.74,0.78,0.82,0.86,0.89,0.92,0.96,1.0],
    [0.57,0.66,0.72,0.77,0.8,0.83,0.85,0.87,0.89,0.91,0.93,0.95,0.96,0.99,1.0],
    [0.47,0.56,0.63,0.68,0.72,0.76,0.79,0.82,0.85,0.88,0.9,0.92,0.94,0.98,1.0],
    [0.45,0.53,0.59,0.64,0.69,0.73,0.77,0.8,0.83,0.86,0.89,0.92,0.94,0.97,1.0],
    [0.45,0.52,0.58,0.63,0.68,0.72,0.76,0.79,0.83,0.86,0.89,0.91,0.94,0.97,1.0],
    [0.39,0.47,0.54,0.59,0.64,0.68,0.72,0.77,0.81,0.84,0.87,0.9,0.93,0.97,1.0],
    [0.55,0.64,0.71,0.75,0.79,0.82,0.84,0.86,0.88,0.9,0.92,0.94,0.96,0.99,1.0],
    [0.56,0.65,0.72,0.77,0.8,0.83,0.86,0.88,0.9,0.92,0.94,0.95,0.97,0.99,1.0],
    [0.62,0.7,0.76,0.81,0.85,0.88,0.9,0.92,0.94,0.95,0.97,0.98,0.98,1.0,1.0],
    [0.64,0.72,0.78,0.82,0.86,0.89,0.91,0.93,0.95,0.96,0.97,0.98,0.99,1.0,1.0],
    [0.43,0.51,0.57,0.62,0.67,0.71,0.75,0.79,0.82,0.85,0.88,0.91,0.93,0.97,1.0],
    [0.38,0.46,0.53,0.58,0.63,0.67,0.71,0.76,0.8,0.83,0.87,0.9,0.93,0.97,1.0],
    [0.36,0.44,0.51,0.57,0.62,0.66,0.7,0.75,0.79,0.83,0.86,0.89,0.92,0.96,1.0],
    [0.59,0.68,0.74,0.78,0.82,0.85,0.87,0.89,0.91,0.93,0.94,0.96,0.97,0.99,1.0],
    [0.4,0.48,0.55,0.6,0.65,0.69,0.73,0.77,0.81,0.84,0.87,0.9,0.93,0.97,1.0],
    [0.56,0.66,0.73,0.78,0.82,0.85,0.87,0.89,0.91,0.93,0.95,0.96,0.97,0.99,1.0],
    [0.44,0.52,0.58,0.63,0.68,0.72,0.76,0.79,0.83,0.86,0.89,0.91,0.94,0.97,1.0],
    [0.41,0.49,0.56,0.61,0.66,0.7,0.74,0.78,0.82,0.85,0.88,0.91,0.93,0.97,1.0],
    [0.35,0.42,0.49,0.55,0.6,0.65,0.69,0.74,0.78,0.82,0.85,0.88,0.92,0.96,1.0],
    [0.57,0.65,0.72,0.76,0.8,0.83,0.85,0.87,0.89,0.91,0.93,0.95,0.96,0.99,1.0],
    [0.63,0.71,0.77,0.82,0.85,0.88,0.91,0.93,0.94,0.96,0.97,0.98,0.99,1.0,1.0],
    [0.39,0.47,0.54,0.6,0.64,0.68,0.72,0.77,0.81,0.84,0.87,0.9,0.93,0.97,1.0],
    [0.41,0.49,0.56,0.61,0.66,0.7,0.74,0.78,0.82,0.85,0.88,0.91,0.93,0.97,1.0],
    [0.57,0.62,0.67,0.71,0.74,0.77,0.8,0.82,0.84,0.85,0.86,0.87,0.89,0.91,0.93],
    [0.61,0.7,0.76,0.81,0.85,0.88,0.9,0.92,0.94,0.96,0.97,0.98,0.99,1.0,1.0],
]

# ---- layout (pixels of a 1285 x 737 canvas) ---------------------------
W, H = 1285, 737
TXT = '#595959'
GRID = '#D9D9D9'

# title, data, y min, y max, y step, axes box (x0, y_top, x1, y_bottom), title xy, ylabel pad px
panels = [
    ('Berger-Parker (BP)', berger_parker, 0.4, 1.4, 0.2, (40, 57, 311, 176), (160, 20), 12),
    ('Shannon Diversity', shannon, 0.8, 1.5, 0.1, (358, 53, 647, 178), (487, 20), 10),
    ('Inverse of Euclidean Distance', inv_euclid, -0.05, 1.15, 0.2, (700, 50, 956, 182), (812, 20), 12),
    ('Inverse of Chi-Square', inv_chi, 0.1, 1.1, 0.2, (1011, 50, 1278, 176), (1133, 20), 4),
    ('Richness (S)', richness, 0.2, 1.2, 0.2, (40, 285, 311, 411), (163, 255), 12),
    ('Simpson diversity (D1)', simpson_d1, 0.9, 1.5, 0.1, (365, 284, 631, 411), (487, 255), 13),
    ('Simpson dominance (D2)', simpson_d2, 0.6, 1.6, 0.2, (689, 284, 955, 411), (812, 255), 11),
    ('Simpson Evenness', simpson_evenness, 0.8, 3.3, 0.5, (1005, 280, 1288, 412), (1145, 255), 13),
    ('Pearson', pearson, 0.8, 1.0, 0.05, (49, 522, 310, 647), (163, 491), 6),
    ('Spearman', spearman, 0.5, 1.0, 0.1, (365, 522, 631, 647), (487, 491), 8),
    ('Rarefaction', rarefaction, 0.3, 1.1, 0.2, (689, 522, 955, 647), (812, 491), 10),
]

fig = plt.figure(figsize=(W / 100, H / 100), dpi=100)
fig.patch.set_facecolor('white')

xs = np.arange(len(x_labels))

for title, data, ymin, ymax, step, box, tpos, ypad in panels:
    x0, yt, x1, yb = box
    ax = fig.add_axes([x0 / W, 1 - yb / H, (x1 - x0) / W, (yb - yt) / H])
    for series, color in zip(data, sample_colors):
        ax.plot(xs, series, color=color, lw=1.3, solid_joinstyle='round')
    ax.set_xlim(-0.5, len(x_labels) - 0.5)
    ax.set_ylim(ymin, ymax)
    ticks = np.round(np.arange(ymin, ymax + step / 2, step), 2)
    ax.set_yticks(ticks)
    ax.set_yticklabels(['{:g}'.format(t) for t in ticks])
    ax.set_xticks(xs)
    ax.set_xticklabels(x_labels, rotation=90)
    ax.tick_params(axis='y', length=0, labelsize=9.5, labelcolor=TXT, pad=ypad * 0.72)
    ax.tick_params(axis='x', length=0, labelsize=9, labelcolor=TXT, pad=6)
    ax.grid(axis='y', color=GRID, lw=0.8)
    ax.set_axisbelow(True)
    for s in ax.spines.values():
        s.set_visible(False)
    fig.text(tpos[0] / W, 1 - tpos[1] / H, title, ha='center', va='center',
             fontsize=14, color=TXT)

# legend laid out row by row like the original
handles = [Line2D([], [], color=c, lw=2.3) for c in sample_colors]
order = list(range(0, len(sample_names), 2)) + list(range(1, len(sample_names), 2))
fig.legend([handles[i] for i in order], [sample_names[i] for i in order],
           ncol=2, loc='upper left', bbox_to_anchor=(1016 / W, 1 - 466 / H),
           frameon=False, fontsize=8.8, labelcolor=TXT, handlelength=2.6,
           handletextpad=0.25, columnspacing=2.2, labelspacing=0.62,
           borderpad=0, borderaxespad=0)

fig.savefig('out.png', dpi=100, facecolor='white')
